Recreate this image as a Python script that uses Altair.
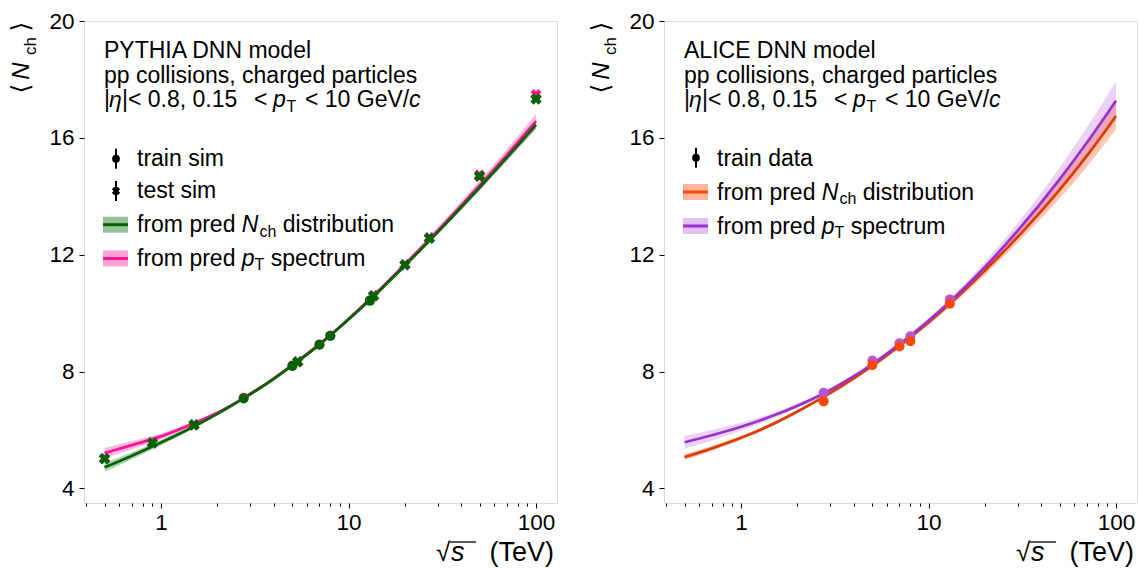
import altair as alt
import pandas as pd

FONT = "Liberation Sans"
W, H = 473, 482
X_DOMAIN = [0.3884, 129.4]
Y_DOMAIN = [3.5, 20]

x_major = [1, 10, 100]
x_minor = [0.4, 0.5, 0.6, 0.7, 0.8, 0.9, 2, 3, 4, 5, 6, 7, 8, 9,
           20, 30, 40, 50, 60, 70, 80, 90]
y_ticks = [4, 8, 12, 16, 20]

# ---- prediction curves (sqrt(s) in TeV) ----
curve_x = [0.5, 0.7, 1, 1.5, 2, 2.76, 4, 5, 7, 10, 13, 20, 30, 50, 70, 100]

# PYTHIA DNN model
py_nch_curve = [4.72, 5.12, 5.57, 6.12, 6.55, 7.08, 7.75, 8.20, 8.92, 9.78, 10.45, 11.63, 12.78, 14.30, 15.33, 16.45]
py_nch_err = [0.15, 0.12, 0.09, 0.06, 0.05, 0.04, 0.04, 0.04, 0.04, 0.05, 0.05, 0.06, 0.07, 0.09, 0.11, 0.14]
py_pt_curve = [5.21, 5.48, 5.78, 6.23, 6.59, 7.10, 7.77, 8.22, 8.94, 9.80, 10.48, 11.67, 12.83, 14.37, 15.42, 16.57]
py_pt_err = [0.17, 0.14, 0.10, 0.07, 0.05, 0.04, 0.04, 0.04, 0.05, 0.06, 0.07, 0.09, 0.12, 0.16, 0.20, 0.25]

py_train_x = [2.76, 5.02, 7, 8, 13]
py_train_nch = [7.08, 8.19, 8.92, 9.22, 10.42]
py_train_pt = [7.10, 8.21, 8.93, 9.23, 10.44]
py_test_x = [0.5, 0.9, 1.5, 5.36, 13.6, 20, 27, 50, 100]
py_test_nch = [5.01, 5.55, 6.17, 8.33, 10.59, 11.65, 12.56, 14.68, 17.33]
py_test_pt = [5.03, 5.57, 6.18, 8.34, 10.60, 11.66, 12.58, 14.72, 17.48]

# ALICE DNN model
al_nch_curve = [5.07, 5.37, 5.73, 6.22, 6.63, 7.13, 7.77, 8.19, 8.88, 9.68, 10.32, 11.46, 12.62, 14.22, 15.39, 16.75]
al_nch_err = [0.10, 0.08, 0.07, 0.06, 0.05, 0.05, 0.05, 0.06, 0.07, 0.08, 0.10, 0.15, 0.20, 0.30, 0.38, 0.45]
al_pt_curve = [5.58, 5.82, 6.11, 6.50, 6.83, 7.25, 7.84, 8.25, 8.93, 9.74, 10.39, 11.58, 12.83, 14.58, 15.84, 17.27]
al_pt_err = [0.22, 0.18, 0.14, 0.10, 0.08, 0.06, 0.06, 0.07, 0.08, 0.10, 0.12, 0.18, 0.26, 0.40, 0.52, 0.66]

al_train_x = [2.76, 5.02, 7, 8, 13]
al_train_nch = [6.98, 8.22, 8.86, 9.04, 10.32]
al_train_pt = [7.27, 8.38, 8.97, 9.21, 10.47]

GREEN = "#006400"
PINK = "#ff1493"
ORANGE_LINE = "#dd3c00"
ORANGE_PT = "#ff4500"
PURPLE_LINE = "#9932cc"
PURPLE_PT = "#ba55d3"

ONE = pd.DataFrame({"d": [0]})

MAJ = "(datum.value == 1 || datum.value == 10 || datum.value == 100)"
xaxis = alt.Axis(values=x_major + x_minor,
                 labelExpr=MAJ + " ? format(datum.value, 'd') : ''",
                 tickSize={"condition": {"test": MAJ, "value": 5}, "value": 3},
                 labelFontSize=22.5, labelFont=FONT, labelColor="black",
                 tickColor="black", tickWidth=1, domain=False, grid=False,
                 title=None, labelPadding=3, labelOverlap=False, labelFlush=False)
yaxis = alt.Axis(values=y_ticks, labelFontSize=22.5, labelFont=FONT, labelColor="black",
                 tickColor="black", tickWidth=1, tickSize=5, labelPadding=5,
                 domain=False, grid=False, title=None)
XS = alt.Scale(type="log", domain=X_DOMAIN, nice=False)
YS = alt.Scale(domain=Y_DOMAIN, nice=False, zero=False)


def X():
    return alt.X("x:Q", scale=XS, axis=xaxis)


def curve_df(ys, errs):
    return pd.DataFrame({"x": curve_x, "y": ys,
                         "lo": [a - b for a, b in zip(ys, errs)],
                         "hi": [a + b for a, b in zip(ys, errs)]})


def band(df, color, op):
    return alt.Chart(df).mark_area(color=color, opacity=op, interpolate="monotone").encode(
        x=X(), y=alt.Y("lo:Q", scale=YS, axis=yaxis), y2="hi:Q")


def line(df, color):
    return alt.Chart(df).mark_line(color=color, strokeWidth=2.7, interpolate="monotone").encode(
        x=X(), y=alt.Y("y:Q", scale=YS, axis=yaxis))


def pts(xs, ys, color, shape, size, angle=0):
    df = pd.DataFrame({"x": xs, "y": ys})
    return alt.Chart(df).mark_point(filled=True, shape=shape, size=size, color=color,
                                    opacity=1, angle=angle, strokeWidth=0).encode(
        x=X(), y=alt.Y("y:Q", scale=YS, axis=yaxis))


def T(s, x, y, size=23, italic=False, align="left", baseline="alphabetic", angle=0, font=FONT):
    return alt.Chart(ONE).mark_text(text=s, font=font, fontSize=size,
                                    fontStyle="italic" if italic else "normal",
                                    align=align, baseline=baseline, angle=angle,
                                    color="black").encode(x=alt.value(x), y=alt.value(y))


def hrule(x1, x2, y, color, w):
    return alt.Chart(ONE).mark_rule(color=color, strokeWidth=w).encode(
        x=alt.value(x1), x2=alt.value(x2), y=alt.value(y))


def vrule(x, y1, y2, color, w):
    return alt.Chart(ONE).mark_rule(color=color, strokeWidth=w).encode(
        x=alt.value(x), y=alt.value(y1), y2=alt.value(y2))


def swatch(yc, color, op, line_color):
    return [alt.Chart(ONE).mark_rect(color=color, opacity=op).encode(
        x=alt.value(19), x2=alt.value(44), y=alt.value(yc - 8), y2=alt.value(yc + 8)),
        hrule(19, 44, yc, line_color, 3)]


def handle(y, shape, size, angle=0):
    return [vrule(32, y - 10, y + 10, "black", 2),
            alt.Chart(ONE).mark_point(filled=True, shape=shape, size=size, color="black",
                                      opacity=1, angle=angle, strokeWidth=0).encode(
                x=alt.value(32), y=alt.value(y))]


def common_text(title):
    sub = 4.6
    out = [T(title, 20, 37), T("pp collisions, charged particles", 20, 61.5),
           T("|", 20, 86), T("\u03b7", 25, 86, italic=True), T("|< 0.8, 0.15", 38, 86),
           T("<", 170, 86), T("p", 189, 86, italic=True), T("T", 202.5, 86 + sub, size=16),
           T("< 10 GeV/", 221, 86), T("c", 325, 86, italic=True)]
    # y axis title <N_ch>
    out += [T("\u27e8", -63.5, 67.5, size=25, align="center", baseline="middle", angle=270, font="DejaVu Sans"),
            T("N", -55, 50, size=24, italic=True, align="center", angle=270),
            T("ch", -48, 25, size=17, align="center", angle=270),
            T("\u27e9", -63.5, 5.5, size=25, align="center", baseline="middle", angle=270, font="DejaVu Sans")]
    # x axis title sqrt(s) (TeV)
    out += [T("\u221a", 352, 540, size=26), T("s", 367, 540, size=27, italic=True),
            hrule(366, 392, 521, "black", 1.3),
            T("(TeV)", 470, 540, size=27, align="right")]
    return out


def legend_entry_nch(y):
    return [T("from pred", 53, y), T("N", 157.8, y, italic=True),
            T("ch", 175.4, y + 4.6, size=16), T("distribution", 198.8, y)]


def legend_entry_pt(y):
    return [T("from pred", 53, y), T("p", 157.8, y, italic=True),
            T("T", 170.6, y + 4.6, size=16), T("spectrum", 186.8, y)]


# ---------------- left panel ----------------
py_nch = curve_df(py_nch_curve, py_nch_err)
py_pt = curve_df(py_pt_curve, py_pt_err)

left_layers = [
    alt.Chart(ONE).mark_rule(opacity=0).encode(x=alt.value(-83), x2=alt.value(-82), y=alt.value(-20)),
    band(py_pt, PINK, 0.3), band(py_nch, GREEN, 0.3),
    line(py_pt, PINK), line(py_nch, GREEN),
    pts(py_train_x, py_train_pt, PINK, "circle", 100),
    pts(py_test_x, py_test_pt, PINK, "cross", 130, 45),
    pts(py_train_x, py_train_nch, GREEN, "circle", 100),
    pts(py_test_x, py_test_nch, GREEN, "cross", 130, 45),
]
left_layers += common_text("PYTHIA DNN model")
left_layers += handle(137.7, "circle", 60) + [T("train sim", 53, 145)]
left_layers += handle(170, "cross", 70, 45) + [T("test sim", 53, 177)]
left_layers += swatch(203.7, GREEN, 0.4, GREEN) + legend_entry_nch(211)
left_layers += swatch(237.5, PINK, 0.4, PINK) + legend_entry_pt(244.5)

left = alt.layer(*left_layers).properties(width=W, height=H)

# ---------------- right panel ----------------
al_nch = curve_df(al_nch_curve, al_nch_err)
al_pt = curve_df(al_pt_curve, al_pt_err)

right_layers = [
    band(al_nch, ORANGE_PT, 0.3), band(al_pt, PURPLE_LINE, 0.22),
    line(al_nch, ORANGE_LINE), line(al_pt, PURPLE_LINE),
    pts(al_train_x, al_train_pt, PURPLE_PT, "circle", 100),
    pts(al_train_x, al_train_nch, ORANGE_PT, "circle", 100),
]
right_layers += common_text("ALICE DNN model")
right_layers += handle(136.7, "circle", 60) + [T("train data", 53, 145)]
right_layers += swatch(171, ORANGE_PT, 0.4, ORANGE_PT) + legend_entry_nch(178.5)
right_layers += swatch(205, PURPLE_LINE, 0.3, PURPLE_LINE) + legend_entry_pt(212.5)

right = alt.layer(*right_layers).properties(width=W, height=H)

chart = alt.hconcat(left, right, spacing=107, bounds="flush").properties(
    padding={"left": 0, "top": 0, "right": 0, "bottom": 0}
).configure_view(stroke="#444", strokeWidth=1.2).configure(background="white")

chart.save("out.html", embed_options={"renderer": "svg", "actions": False})
